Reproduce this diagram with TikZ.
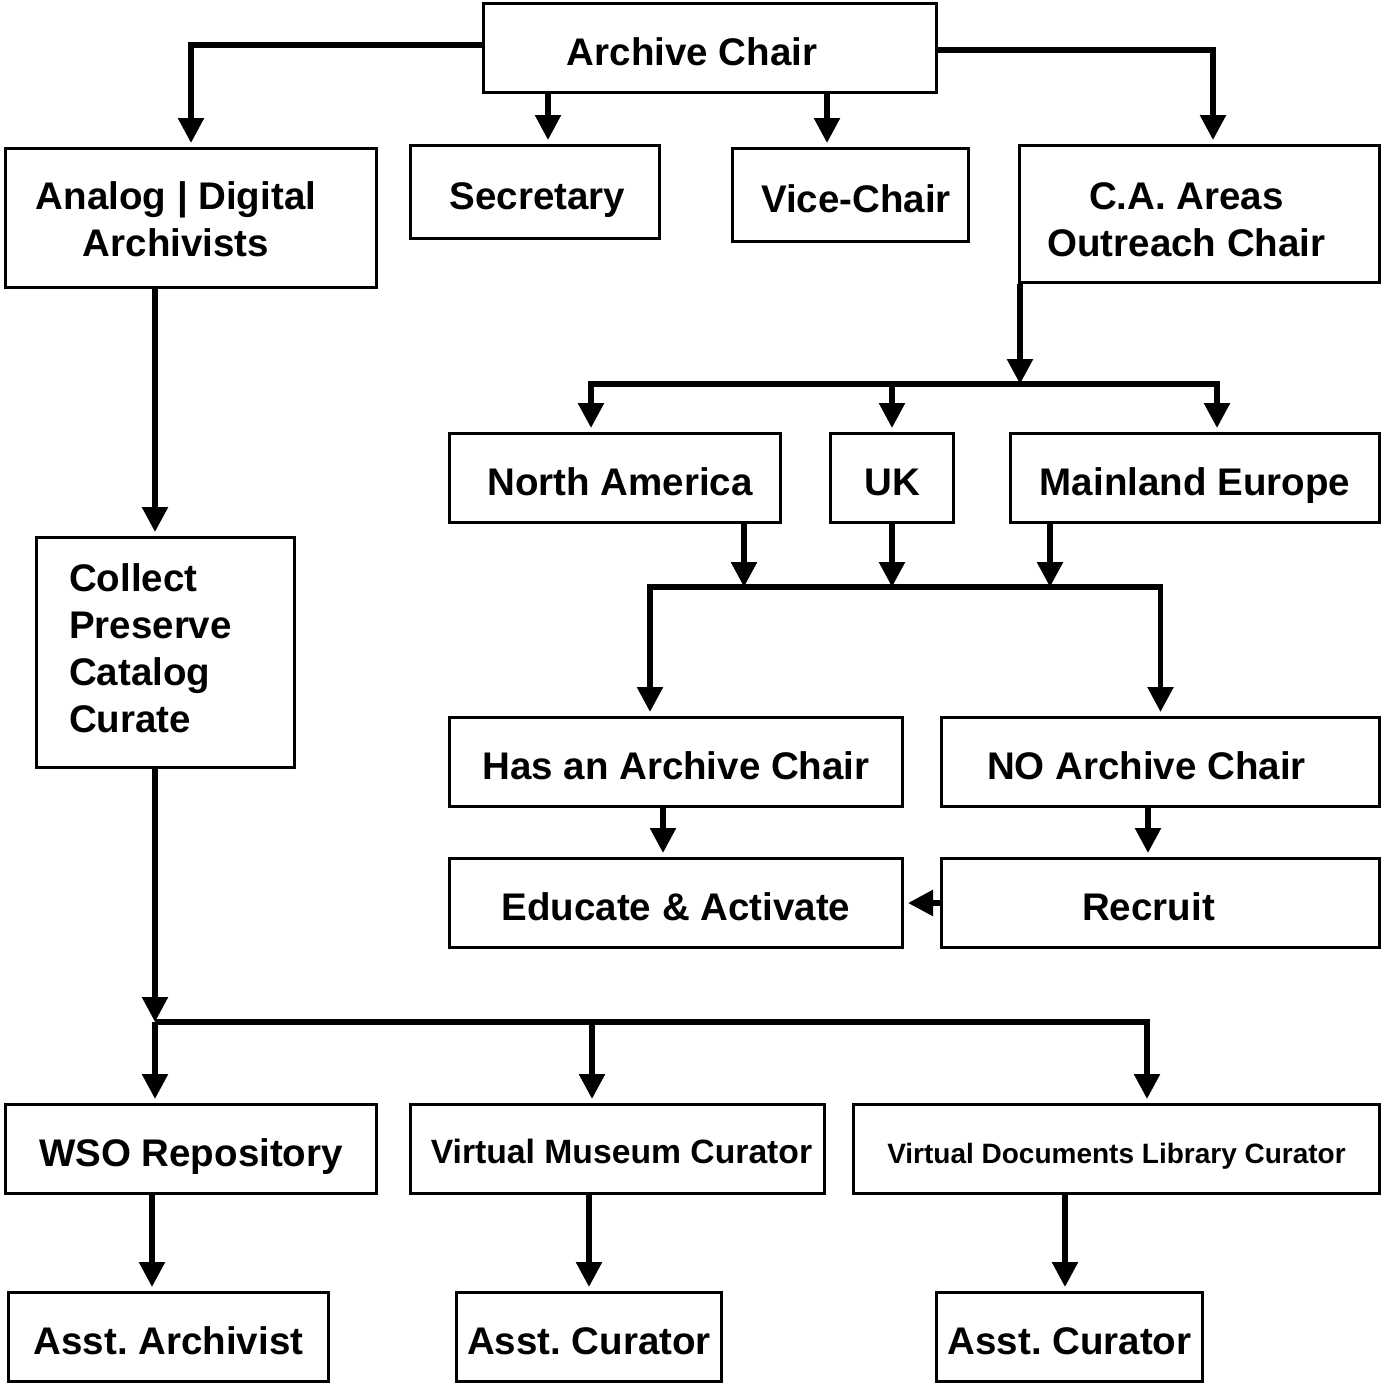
\documentclass[tikz,border=0pt]{standalone}
\usepackage{fontspec}
\setmainfont{Liberation Sans}
\usetikzlibrary{arrows.meta}
\newcommand\mlines[2]{\begin{tabular}[t]{@{}#1@{}}#2\end{tabular}}
\frenchspacing
\begin{document}
\frenchspacing
\begin{tikzpicture}[x=1pt,y=-1pt,
  box/.style={draw, line width=3pt, rectangle, inner sep=0pt,
    font=\fontsize{38.5}{47}\selectfont\bfseries\frenchspacing, text height=34pt, text depth=0pt},
  mid/.style={font=\fontsize{33.7}{40}\selectfont\bfseries, text height=28pt},
  small/.style={font=\fontsize{28}{34}\selectfont\bfseries, text height=28pt},
  conn/.style={line width=5.5pt, line join=miter},
  arr/.style={-{Triangle[length=25pt,width=25pt]}},
  arrn/.style={-{Triangle[length=25pt,width=25pt]}, shorten >=4pt}]
\useasboundingbox[fill=white] (0,0) rectangle (1381,1385);

% boxes
\node[box, minimum width=453pt, minimum height=89pt] (chair) at (710,48) {Archive Chair\hspace*{36pt}};
\node[box, text height=30pt, text depth=48pt, minimum width=371pt, minimum height=139pt] (ana) at (191,218)
  {\mlines{c}{Analog | Digital\\Archivists}\hspace*{30pt}};
\node[box, minimum width=249pt, minimum height=93pt] (sec) at (535,192) {\hspace*{5pt}Secretary};
\node[box, minimum width=236pt, minimum height=93pt] (vice) at (850.5,195) {\hspace*{11pt}Vice-Chair};
\node[box, text height=30pt, text depth=39pt, minimum width=360pt, minimum height=137pt] (ca) at (1199.5,214)
  {\mlines{c}{C.A.\ Areas\\Outreach Chair}\hspace*{26pt}};
\node[box, minimum width=331pt, minimum height=89pt] (na) at (615,478) {\hspace*{10pt}North America};
\node[box, minimum width=123pt, minimum height=89pt] (uk) at (892,478) {UK};
\node[box, minimum width=369pt, minimum height=89pt] (me) at (1195,478) {Mainland Europe};
\node[box, text height=30pt, text depth=153pt, minimum width=258pt, minimum height=230pt] (col) at (165.5,652.5)
  {\mlines{l}{Collect\\Preserve\\Catalog\\Curate}\hspace*{30pt}};
\node[box, minimum width=453pt, minimum height=89pt] (has) at (676,762) {Has an Archive Chair};
\node[box, minimum width=438pt, minimum height=89pt] (no) at (1160.5,762) {NO Archive Chair\hspace*{28pt}};
\node[box, minimum width=453pt, minimum height=89pt] (edu) at (676,903) {Educate \& Activate};
\node[box, minimum width=438pt, minimum height=89pt] (rec) at (1160.5,903) {Recruit\hspace*{24pt}};
\node[box, minimum width=371pt, minimum height=89pt] (wso) at (191,1149) {WSO Repository};
\node[box, mid, minimum width=414pt, minimum height=89pt] (vm) at (617.5,1149) {\hspace*{8pt}Virtual Museum Curator};
\node[box, small, minimum width=526pt, minimum height=89pt] (vdl) at (1116.5,1149) {Virtual Documents Library Curator};
\node[box, minimum width=320pt, minimum height=89pt] (aa) at (168.5,1337) {Asst.\ Archivist};
\node[box, minimum width=265pt, minimum height=89pt] (ac1) at (589,1337) {Asst.\ Curator};
\node[box, minimum width=266pt, minimum height=89pt] (ac2) at (1069.5,1337) {Asst.\ Curator};

% helper coordinates
\coordinate (xa) at (548,0);
\coordinate (xb) at (827,0);
\coordinate (xc) at (1213,0);
\coordinate (xe) at (591,0);
\coordinate (xf) at (1217,0);
\coordinate (xg) at (744,0);
\coordinate (xh) at (1050,0);
\coordinate (xi) at (650,0);
\coordinate (xj) at (663,0);
\coordinate (xk) at (1148,0);
\coordinate (xl) at (155,0);
\coordinate (xm) at (592,0);
\coordinate (xn) at (1147,0);
\coordinate (xo) at (152,0);
\coordinate (xp) at (589,0);
\coordinate (xq) at (1065,0);
\coordinate (j1) at (1020,384);
\coordinate (j2) at (891,587);
\coordinate (j3) at (155,1022);

% connectors from Archive Chair
\draw[conn,arrn] ([yshift=3pt]chair.west) -| (ana.north);
\draw[conn,arrn] ([yshift=-2pt]chair.east) -| (ca.north -| xc);
\draw[conn,arrn] (chair.south -| xa) -- (sec.north -| xa);
\draw[conn,arrn] (chair.south -| xb) -- (vice.north -| xb);

% outreach
\draw[conn,arr] (ca.south -| j1) -- (j1);
\draw[conn,arrn] (j1) -| (na.north -| xe);
\draw[conn,arrn] (j1) -| (me.north -| xf);
\draw[conn,arrn] (j1 -| uk.north) -- (uk.north);

\draw[conn,arr] (na.south -| xg) -- (j2 -| xg);
\draw[conn,arr] (uk.south) -- (uk.south |- j2);
\draw[conn,arr] (me.south -| xh) -- (j2 -| xh);
\draw[conn,arrn] (j2) -| (has.north -| xi);
\draw[conn,arrn] (j2) -| (no.north);

\draw[conn,arrn] (has.south -| xj) -- (edu.north -| xj);
\draw[conn,arrn] (no.south -| xk) -- (rec.north -| xk);
\draw[conn,arrn] (rec.west) -- (edu.east);

% archivists branch
\draw[conn,arrn] (ana.south -| xl) -- (col.north -| xl);
\draw[conn,arr] (col.south -| j3) -- (j3);
\draw[conn,arrn] (j3) -- (wso.north -| j3);
\draw[conn,arrn] (j3) -| (vdl.north -| xn);
\draw[conn,arrn] (j3 -| xm) -- (vm.north -| xm);

\draw[conn,arrn] (wso.south -| xo) -- (aa.north -| xo);
\draw[conn,arrn] (vm.south -| xp) -- (ac1.north -| xp);
\draw[conn,arrn] (vdl.south -| xq) -- (ac2.north -| xq);
\end{tikzpicture}
\end{document}
